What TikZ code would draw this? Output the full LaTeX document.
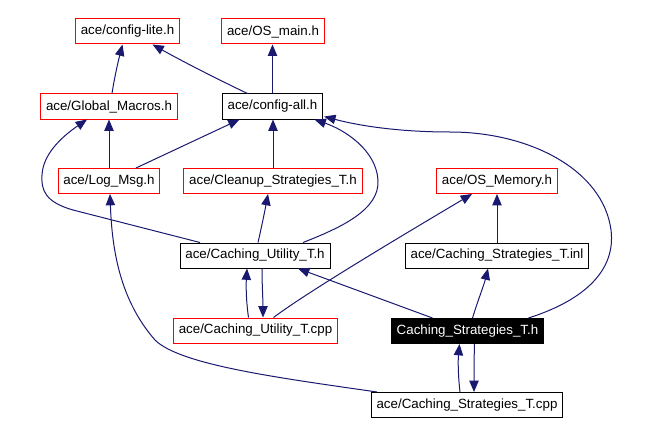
\documentclass[tikz,border=0pt]{standalone}
\usepackage{fontspec}
\setmainfont{Liberation Sans}
\usetikzlibrary{arrows.meta,calc}
\definecolor{edgeblue}{HTML}{191970}

\begin{document}
\begin{tikzpicture}[x=0.75pt,y=-0.75pt,
  file/.style={rectangle,draw=red,line width=0.75pt,inner xsep=4pt,inner ysep=0pt,minimum height=18.75pt,font=\fontsize{10pt}{12pt}\selectfont},
  plain/.style={file,draw=black},
  current/.style={file,draw=black,fill=black,text=white},
  inc/.style={draw=edgeblue,line width=0.75pt,-{Triangle[length=8.5pt,width=7pt]}}]
\useasboundingbox (0,0) rectangle (646,435);

\node[file]    at (127.5,31.5) (cfglite) {ace/config-lite.h};
\node[file]    at (273,31.5)   (osmain) {ace/OS\_main.h};
\node[file]    at (109,106.5)  (gmacros) {ace/Global\_Macros.h};
\node[plain]   at (272.5,106.5)(cfgall) {ace/config-all.h};
\node[file]    at (109,181)    (logmsg) {ace/Log\_Msg.h};
\node[file]    at (273,181)    (cleanup) {ace/Cleanup\_Strategies\_T.h};
\node[file]    at (497,181)    (osmem) {ace/OS\_Memory.h};
\node[plain]   at (255,255.5)  (cutilh) {ace/Caching\_Utility\_T.h};
\node[plain]   at (497,255.5)  (csinl) {ace/Caching\_Strategies\_T.inl};
\node[file]    at (255.5,330.5)(cutilcpp) {ace/Caching\_Utility\_T.cpp};
\node[current] at (467.5,331)  (csh) {Caching\_Strategies\_T.h};
\node[plain]   at (467,405)    (cscpp) {ace/Caching\_Strategies\_T.cpp};

\draw[inc] ($(gmacros.north)+(3,0)$) .. controls (114,80) and (118,62) .. ($(cfglite.south)+(-5,0)$);
\draw[inc] ($(cfgall.north)+(-25,0)$) .. controls (215,78) and (180,60) .. ($(cfglite.south)+(25,0)$);
\draw[inc] (cfgall.north) -- (cfgall.north |- osmain.south);
\draw[inc] (logmsg.north) -- (gmacros.south);
\draw[inc] ($(logmsg.north)+(27,0)$) -- ($(cfgall.south)+(-33,0)$);
\draw[inc] (cleanup.north) -- (cleanup.north |- cfgall.south);
\draw[inc] ($(cutilh.north)+(-55,0)$) -- (73,210) .. controls (45,202) and (41,190) .. (42,175)
  .. controls (43,155) and (60,138) .. ($(gmacros.south)+(-22,0)$);
\draw[inc] ($(cutilh.north)+(48,0)$) .. controls (340,228) and (380,210) .. (378,180)
  .. controls (376,150) and (345,130) .. ($(cfgall.south)+(42,0)$);
\draw[inc] ($(cutilh.north)+(3,0)$) .. controls (262,225) and (265,210) .. ($(cleanup.south)+(-5,0)$);
\draw[inc] ($(cutilcpp.north)+(-7,0)$) .. controls (246,300) and (246,285) .. ($(cutilh.south)+(-8,0)$);
\draw[inc] ($(cutilh.south)+(7,0)$) .. controls (262,285) and (263,300) .. ($(cutilcpp.north)+(7.5,0)$);
\draw[inc] ($(cutilcpp.north)+(18,0)$) .. controls (310,290) and (420,225) .. ($(osmem.south)+(-25,0)$);
\draw[inc] ($(csh.north)+(-35,0)$) -- ($(cutilh.south)+(43,0)$);
\draw[inc] ($(csh.north)+(5,0)$) .. controls (478,300) and (484,285) .. ($(csinl.south)+(-9,0)$);
\draw[inc] (csinl.north) -- (osmem.south);
\draw[inc] ($(csh.north)+(61,0)$) .. controls (585,300) and (616,270) .. (611,230)
  .. controls (603,170) and (530,132) .. (450,132)
  .. controls (400,132) and (360,126) .. ($(cfgall.south east)+(1,-3)$);
\draw[inc] ($(cscpp.north)+(-7,0)$) .. controls (458,375) and (458,360) .. ($(csh.south)+(-8,0)$);
\draw[inc] ($(csh.south)+(7,0)$) .. controls (474,360) and (474,375) .. ($(cscpp.north)+(7,0)$);
\draw[inc] ($(cscpp.north)+(-90,0)$) .. controls (280,378) and (180,365) .. (155,340)
  .. controls (120,300) and (112,250) .. ($(logmsg.south)+(1,0)$);
\end{tikzpicture}
\end{document}
